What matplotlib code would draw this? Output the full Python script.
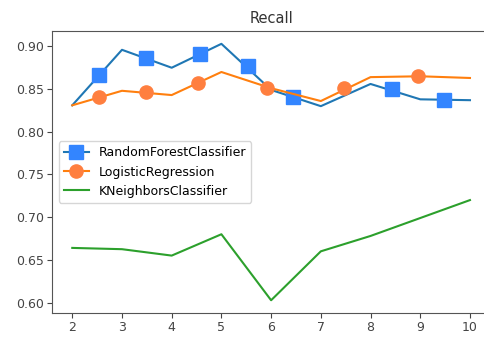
import matplotlib
matplotlib.use("Agg")
import matplotlib.pyplot as plt

# Number of neighbours / depth setting on the x axis
k_values = [2, 3, 4, 5, 6, 7, 8, 9, 10]

# Recall per model
rf_recall = [0.831, 0.896, 0.875, 0.903, 0.849, 0.830, 0.856, 0.838, 0.837]
lr_recall = [0.831, 0.848, 0.843, 0.870, 0.851, 0.836, 0.864, 0.865, 0.863]
kn_recall = [0.664, 0.6625, 0.655, 0.680, 0.6027, 0.660, 0.678, 0.699, 0.720]

# Marker positions along the random forest and logistic regression curves
rf_mark_x = [2.54, 3.49, 4.56, 5.53, 6.44, 8.43, 9.48]
rf_mark_y = [0.866, 0.8866, 0.891, 0.8765, 0.8406, 0.8506, 0.837]
lr_mark_x = [2.54, 3.49, 4.52, 5.92, 7.47, 8.96]
lr_mark_y = [0.8405, 0.8467, 0.8568, 0.8513, 0.8513, 0.8657]

fig = plt.figure(figsize=(4.85, 3.37), dpi=100)
ax = fig.add_axes([0.108, 0.071, 0.902, 0.837])

rf_line, = ax.plot(k_values, rf_recall, color="#1f77b4", lw=1.5)
rf_marks, = ax.plot(rf_mark_x, rf_mark_y, ls="none", marker="s",
                    markersize=9.5, color="#3385ff")
lr_line, = ax.plot(k_values, lr_recall, color="#ff7f0e", lw=1.5)
lr_marks, = ax.plot(lr_mark_x, lr_mark_y, ls="none", marker="o",
                    markersize=9.5, color="#ff7f3f")
kn_line, = ax.plot(k_values, kn_recall, color="#2ca02c", lw=1.5)

ax.set_title("Recall", fontsize=10.5, color="#333333")
ax.set_xticks(k_values)
ax.tick_params(labelsize=9, colors="#444444", pad=2.5)
for s in ("top", "left", "bottom"):
    ax.spines[s].set_color("#555555")
ax.spines["right"].set_visible(False)

ax.legend([(rf_line, rf_marks), (lr_line, lr_marks), kn_line],
          ["RandomForestClassifier", "LogisticRegression", "KNeighborsClassifier"],
          loc="center left", fontsize=9)

fig.savefig("out.png", dpi=100)
